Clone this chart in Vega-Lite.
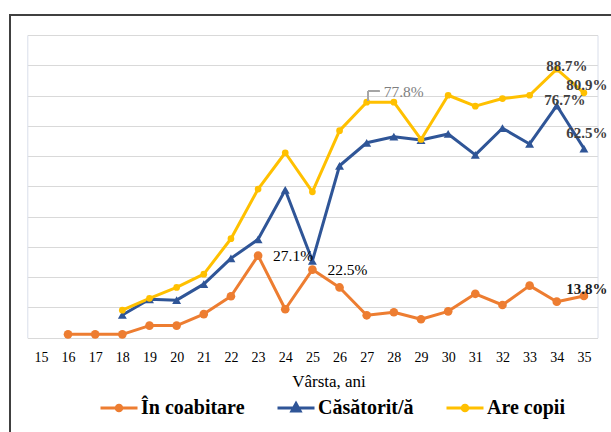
{
  "$schema": "https://vega.github.io/schema/vega-lite/v6.json",
  "width": 640,
  "height": 450,
  "autosize": {"type": "none"},
  "padding": {"left": 10, "top": 15, "right": 0, "bottom": 0},
  "background": "white",
  "config": {
    "view": {"stroke": "#404040", "strokeWidth": 2},
    "font": "'Liberation Serif', 'DejaVu Serif', serif"
  },
  "data": {
    "values": [
      {"age": 16, "s": "În coabitare", "v": 1.1},
      {"age": 17, "s": "În coabitare", "v": 1.1},
      {"age": 18, "s": "În coabitare", "v": 1.1},
      {"age": 19, "s": "În coabitare", "v": 4.0},
      {"age": 20, "s": "În coabitare", "v": 4.0},
      {"age": 21, "s": "În coabitare", "v": 7.8},
      {"age": 22, "s": "În coabitare", "v": 13.7},
      {"age": 23, "s": "În coabitare", "v": 27.1, "label": "27.1%"},
      {"age": 24, "s": "În coabitare", "v": 9.4},
      {"age": 25, "s": "În coabitare", "v": 22.5, "label": "22.5%"},
      {"age": 26, "s": "În coabitare", "v": 16.6},
      {"age": 27, "s": "În coabitare", "v": 7.4},
      {"age": 28, "s": "În coabitare", "v": 8.4},
      {"age": 29, "s": "În coabitare", "v": 6.1},
      {"age": 30, "s": "În coabitare", "v": 8.7},
      {"age": 31, "s": "În coabitare", "v": 14.5},
      {"age": 32, "s": "În coabitare", "v": 10.8},
      {"age": 33, "s": "În coabitare", "v": 17.2},
      {"age": 34, "s": "În coabitare", "v": 11.9},
      {"age": 35, "s": "În coabitare", "v": 13.8, "label": "13.8%"},
      {"age": 18, "s": "Căsătorit/ă", "v": 7.5},
      {"age": 19, "s": "Căsătorit/ă", "v": 12.7},
      {"age": 20, "s": "Căsătorit/ă", "v": 12.4},
      {"age": 21, "s": "Căsătorit/ă", "v": 17.7},
      {"age": 22, "s": "Căsătorit/ă", "v": 26.2},
      {"age": 23, "s": "Căsătorit/ă", "v": 32.5},
      {"age": 24, "s": "Căsătorit/ă", "v": 48.8},
      {"age": 25, "s": "Căsătorit/ă", "v": 25.4},
      {"age": 26, "s": "Căsătorit/ă", "v": 56.8},
      {"age": 27, "s": "Căsătorit/ă", "v": 64.4},
      {"age": 28, "s": "Căsătorit/ă", "v": 66.4},
      {"age": 29, "s": "Căsătorit/ă", "v": 65.3},
      {"age": 30, "s": "Căsătorit/ă", "v": 67.3},
      {"age": 31, "s": "Căsătorit/ă", "v": 60.4},
      {"age": 32, "s": "Căsătorit/ă", "v": 69.2},
      {"age": 33, "s": "Căsătorit/ă", "v": 64.0},
      {"age": 34, "s": "Căsătorit/ă", "v": 76.7, "label": "76.7%"},
      {"age": 35, "s": "Căsătorit/ă", "v": 62.5, "label": "62.5%"},
      {"age": 18, "s": "Are copii", "v": 9.1},
      {"age": 19, "s": "Are copii", "v": 13.0},
      {"age": 20, "s": "Are copii", "v": 16.6},
      {"age": 21, "s": "Are copii", "v": 21.0},
      {"age": 22, "s": "Are copii", "v": 32.7},
      {"age": 23, "s": "Are copii", "v": 49.1},
      {"age": 24, "s": "Are copii", "v": 61.1},
      {"age": 25, "s": "Are copii", "v": 48.2},
      {"age": 26, "s": "Are copii", "v": 68.4},
      {"age": 27, "s": "Are copii", "v": 77.8, "label": "77.8%"},
      {"age": 28, "s": "Are copii", "v": 77.8},
      {"age": 29, "s": "Are copii", "v": 65.5},
      {"age": 30, "s": "Are copii", "v": 80.1},
      {"age": 31, "s": "Are copii", "v": 76.5},
      {"age": 32, "s": "Are copii", "v": 79.0},
      {"age": 33, "s": "Are copii", "v": 80.1},
      {"age": 34, "s": "Are copii", "v": 88.7, "label": "88.7%"},
      {"age": 35, "s": "Are copii", "v": 80.9, "label": "80.9%"}
    ]
  },
  "resolve": {"axis": {"y": "independent"}},
  "layer": [
    {
      "encoding": {
        "x": {
          "field": "age", "type": "ordinal",
          "scale": {"type": "point", "domain": [15,16,17,18,19,20,21,22,23,24,25,26,27,28,29,30,31,32,33,34,35], "range": [17.3, 587.5], "padding": 0.5},
          "axis": {
            "orient": "bottom", "offset": -127.3, "domain": false, "ticks": false, "tickSize": 0,
            "labelAngle": 0, "labelFontSize": 14, "labelColor": "#000000", "labelPadding": 13,
            "title": "Vârsta, ani", "titleFontSize": 17, "titleFontWeight": "normal", "titleColor": "#000000",
            "titleX": 318.5, "titleY": 44, "titleAlign": "center", "titleBaseline": "middle"
          }
        },
        "y": {
          "field": "v", "type": "quantitative",
          "scale": {"domain": [0, 100], "range": [322.7, 20], "nice": false, "zero": true},
          "axis": {
            "orient": "left", "offset": -17.3, "values": [0,10,20,30,40,50,60,70,80,90,100],
            "labels": false, "ticks": false, "title": null,
            "domain": true, "domainColor": "#d9deea", "domainWidth": 1,
            "grid": true, "gridColor": "#d9d9d9", "gridWidth": 1
          }
        }
      },
      "layer": [
        {
          "mark": {"type": "line", "strokeWidth": 3, "strokeJoin": "round", "strokeCap": "round"},
          "encoding": {
            "color": {
              "field": "s", "type": "nominal",
              "scale": {"domain": ["În coabitare", "Căsătorit/ă", "Are copii"], "range": ["#ED7D31", "#2F5597", "#FFC000"]},
              "legend": {
                "orient": "none", "legendX": 89, "legendY": 373, "direction": "horizontal",
                "title": null, "padding": 0, "columnPadding": 26, "labelOffset": 2,
                "symbolSize": 1369, "symbolStrokeWidth": 3,
                "labelFontSize": 20, "labelFontWeight": "bold", "labelColor": "#000000",
                "encode": {
                  "symbols": {
                    "update": {
                      "shape": {"signal": "datum.value === 'Căsătorit/ă' ? 'M-1,0H1M0,-0.24L0.22,0.16L-0.22,0.16Z' : 'M-1,0H1M-0.15,0A0.15,0.15 0 1,0 0.15,0A0.15,0.15 0 1,0 -0.15,0Z'"},
                      "fill": {"signal": "scale('color', datum.value)"},
                      "stroke": {"signal": "scale('color', datum.value)"},
                      "strokeWidth": {"value": 3},
                      "fillOpacity": {"value": 1},
                      "opacity": {"value": 1}
                    }
                  }
                }
              }
            }
          }
        },
        {
          "transform": [{"filter": "datum.s === 'În coabitare'"}],
          "mark": {"type": "point", "shape": "circle", "filled": true, "size": 75, "color": "#ED7D31", "opacity": 1}
        },
        {
          "transform": [{"filter": "datum.s === 'Căsătorit/ă'"}],
          "mark": {"type": "point", "shape": "triangle-up", "filled": true, "size": 80, "color": "#2F5597", "opacity": 1}
        },
        {
          "transform": [{"filter": "datum.s === 'Are copii'"}],
          "mark": {"type": "point", "shape": "circle", "filled": true, "size": 45, "color": "#FFC000", "opacity": 1}
        },
        {
          "mark": {"type": "rule", "color": "#a6a6a6", "strokeWidth": 1, "xOffset": 1.5},
          "encoding": {"x": {"datum": 27}, "y": {"datum": 78.4}, "y2": {"datum": 81.4}}
        },
        {
          "mark": {"type": "rule", "color": "#a6a6a6", "strokeWidth": 1, "xOffset": 1.5, "x2Offset": 12.5},
          "encoding": {"x": {"datum": 27}, "x2": {"datum": 27}, "y": {"datum": 81.4}}
        },
        {
          "transform": [{"filter": "datum.label === '27.1%' || datum.label === '22.5%'"}],
          "mark": {"type": "text", "fontSize": 15.5, "color": "#000000", "align": "left", "baseline": "middle", "dx": 15, "dy": 0},
          "encoding": {"text": {"field": "label"}}
        },
        {
          "transform": [{"filter": "datum.label === '77.8%'"}],
          "mark": {"type": "text", "fontSize": 15.5, "color": "#7f7f7f", "align": "left", "baseline": "middle", "dx": 17, "dy": -10},
          "encoding": {"text": {"field": "label"}}
        },
        {
          "transform": [{"filter": "datum.label === '88.7%'"}],
          "mark": {"type": "text", "fontSize": 15, "fontWeight": "bold", "color": "#404040", "align": "center", "baseline": "middle", "dx": 10, "dy": -3},
          "encoding": {"text": {"field": "label"}}
        },
        {
          "transform": [{"filter": "datum.label === '80.9%'"}],
          "mark": {"type": "text", "fontSize": 15, "fontWeight": "bold", "color": "#404040", "align": "center", "baseline": "middle", "dx": 3, "dy": -8},
          "encoding": {"text": {"field": "label"}}
        },
        {
          "transform": [{"filter": "datum.label === '76.7%'"}],
          "mark": {"type": "text", "fontSize": 15, "fontWeight": "bold", "color": "#404040", "align": "center", "baseline": "middle", "dx": 8, "dy": -6},
          "encoding": {"text": {"field": "label"}}
        },
        {
          "transform": [{"filter": "datum.label === '62.5%'"}],
          "mark": {"type": "text", "fontSize": 15, "fontWeight": "bold", "color": "#404040", "align": "center", "baseline": "middle", "dx": 3, "dy": -16},
          "encoding": {"text": {"field": "label"}}
        },
        {
          "transform": [{"filter": "datum.label === '13.8%'"}],
          "mark": {"type": "text", "fontSize": 15, "fontWeight": "bold", "color": "#1a1a1a", "align": "center", "baseline": "middle", "dx": 3, "dy": -7},
          "encoding": {"text": {"field": "label"}}
        }
      ]
    },
    {
      "mark": {"type": "point", "opacity": 0},
      "encoding": {
        "y": {
          "field": "v", "type": "quantitative",
          "scale": {"domain": [0, 100], "range": [322.7, 20], "nice": false, "zero": true},
          "axis": {
            "orient": "right", "offset": -52.5, "labels": false, "ticks": false, "title": null, "grid": false,
            "domain": true, "domainColor": "#d9deea", "domainWidth": 1
          }
        }
      }
    }
  ]
}
